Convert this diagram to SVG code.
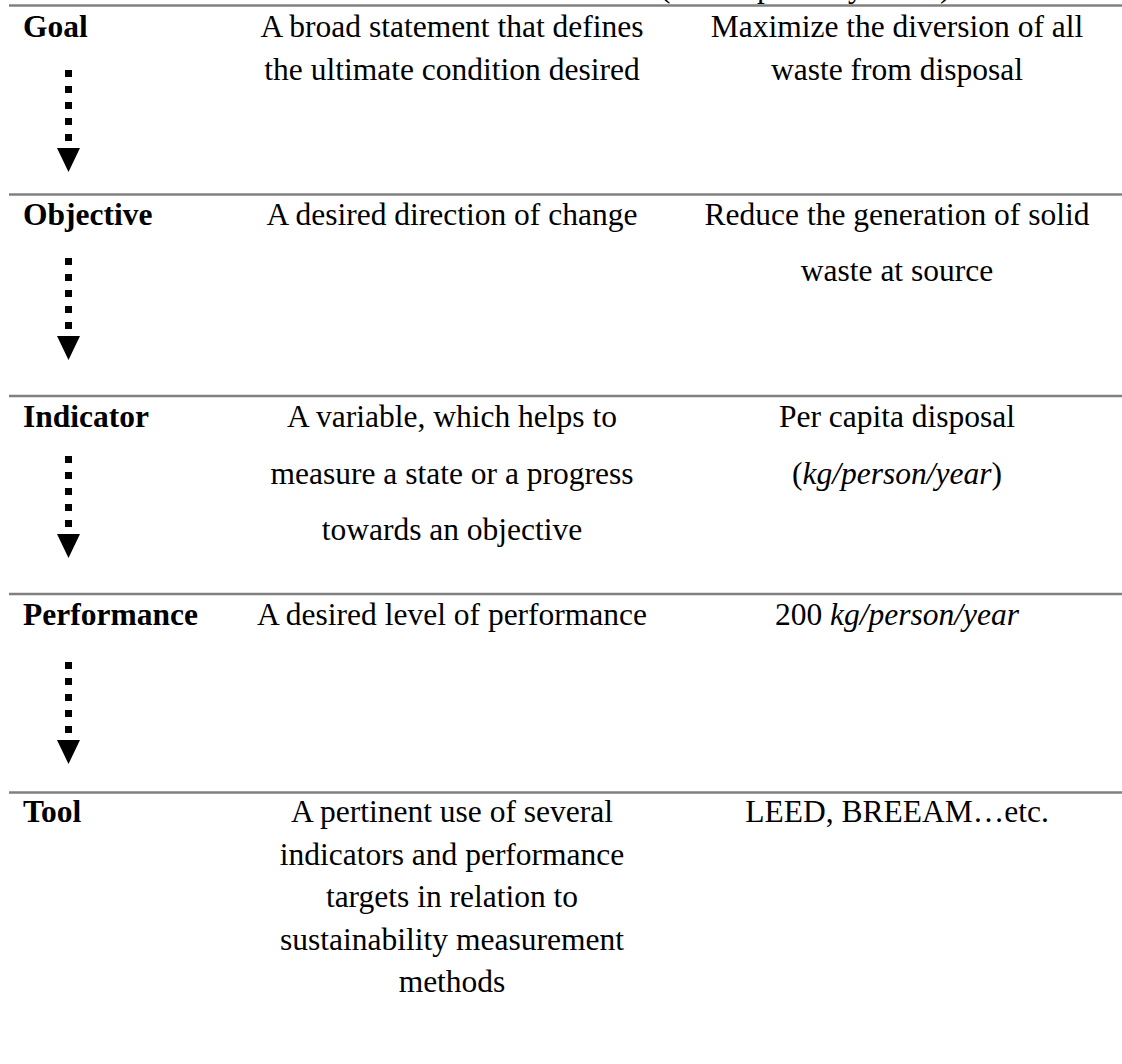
<svg xmlns="http://www.w3.org/2000/svg" width="1122" height="1064" viewBox="0 0 1122 1064">
  <style>
    text { font-family: "Liberation Serif", "Times New Roman", serif; font-size: 31.5px; fill: #000; }
    .term { font-weight: bold; }
    .mid { text-anchor: middle; }
    .rule { stroke: #808080; stroke-width: 2.5; }
    .dot { fill: #000; }
    .head { fill: #000; }
    .it { font-style: italic; }
  </style>
  <defs>
    <!-- dotted downward arrow: five square dots and a solid head -->
    <g id="down-arrow">
      <rect class="dot" x="-3.5" y="0" width="7" height="7"/>
      <rect class="dot" x="-3.5" y="16" width="7" height="7"/>
      <rect class="dot" x="-3.5" y="32" width="7" height="7"/>
      <rect class="dot" x="-3.5" y="48" width="7" height="7"/>
      <rect class="dot" x="-3.5" y="64" width="7" height="7"/>
      <polygon class="head" points="-11.5,78 11.5,78 0,102"/>
    </g>
  </defs>

  <rect width="1122" height="1064" fill="#fff"/>

  <!-- descenders of the caption line above, cut by the top edge -->
  <text y="-3"><tspan x="660">(</tspan><tspan x="757">p</tspan><tspan x="848">y</tspan><tspan x="940">)</tspan></text>

  <!-- horizontal rules between rows -->
  <g id="rules">
    <line class="rule" x1="9" y1="5.5" x2="1122" y2="5.5"/>
    <line class="rule" x1="9" y1="194.5" x2="1122" y2="194.5"/>
    <line class="rule" x1="9" y1="396" x2="1122" y2="396"/>
    <line class="rule" x1="9" y1="594" x2="1122" y2="594"/>
    <line class="rule" x1="9" y1="792.5" x2="1122" y2="792.5"/>
  </g>

  <g id="goal">
    <text class="term" x="23" y="37">Goal</text>
    <text class="mid" x="452" y="37">A broad statement that defines</text>
    <text class="mid" x="452" y="79.5">the ultimate condition desired</text>
    <text class="mid" x="897" y="37">Maximize the diversion of all</text>
    <text class="mid" x="897" y="79.5">waste from disposal</text>
  </g>

  <g id="objective">
    <text class="term" x="23" y="225">Objective</text>
    <text class="mid" x="452" y="225">A desired direction of change</text>
    <text class="mid" x="897" y="225">Reduce the generation of solid</text>
    <text class="mid" x="897" y="281">waste at source</text>
  </g>

  <g id="indicator">
    <text class="term" x="23" y="427">Indicator</text>
    <text class="mid" x="452" y="427">A variable, which helps to</text>
    <text class="mid" x="452" y="483.5">measure a state or a progress</text>
    <text class="mid" x="452" y="540">towards an objective</text>
    <text class="mid" x="897" y="427">Per capita disposal</text>
    <text class="mid" x="897" y="483.5">(<tspan class="it">kg/person/year</tspan>)</text>
  </g>

  <g id="performance">
    <text class="term" x="23" y="625">Performance</text>
    <text class="mid" x="452" y="625">A desired level of performance</text>
    <text class="mid" x="897" y="625">200 <tspan class="it">kg/person/year</tspan></text>
  </g>

  <g id="tool">
    <text class="term" x="23" y="822">Tool</text>
    <text class="mid" x="452" y="822">A pertinent use of several</text>
    <text class="mid" x="452" y="864.5">indicators and performance</text>
    <text class="mid" x="452" y="907">targets in relation to</text>
    <text class="mid" x="452" y="949.5">sustainability measurement</text>
    <text class="mid" x="452" y="992">methods</text>
    <text class="mid" x="897" y="822">LEED, BREEAM…etc.</text>
  </g>

  <!-- dotted arrows leading from each level to the next -->
  <g id="connectors">
    <use href="#down-arrow" x="68.5" y="70"/>
    <use href="#down-arrow" x="68.5" y="258"/>
    <use href="#down-arrow" x="68.5" y="456"/>
    <use href="#down-arrow" x="68.5" y="662"/>
  </g>
</svg>
